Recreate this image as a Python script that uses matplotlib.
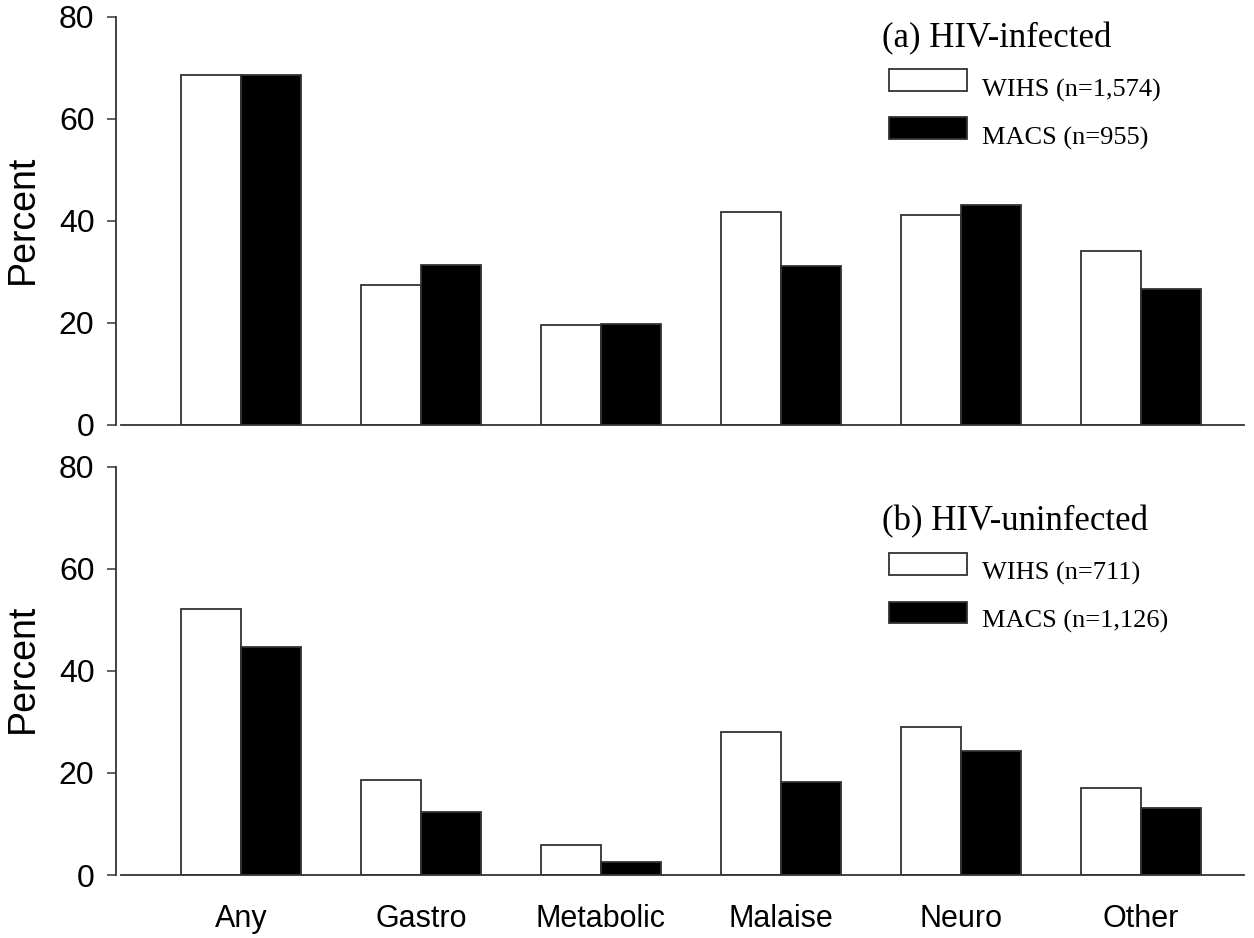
import matplotlib
matplotlib.use("Agg")
import matplotlib.pyplot as plt
from matplotlib.patches import Rectangle
import numpy as np

categories = ["Any", "Gastro", "Metabolic", "Malaise", "Neuro", "Other"]
yticks = [0, 20, 40, 60, 80]

# (a) HIV-infected
wihs_inf = [68.6, 27.4, 19.7, 41.7, 41.2, 34.2]
macs_inf = [68.6, 31.4, 19.9, 31.1, 43.2, 26.6]
# (b) HIV-uninfected
wihs_uninf = [52.2, 18.6, 5.9, 28.0, 29.0, 17.0]
macs_uninf = [44.6, 12.4, 2.5, 18.3, 24.2, 13.2]

panel_titles = ["(a) HIV-infected", "(b) HIV-uninfected"]
legend_labels = [["WIHS (n=1,574)", "MACS (n=955)"],
                 ["WIHS (n=711)", "MACS (n=1,126)"]]

W, H = 1254, 938
fig = plt.figure(figsize=(W / 100, H / 100), dpi=100)
fig.patch.set_facecolor("white")

edge = "#333333"
sans = ["Liberation Sans", "DejaVu Sans"]
serif = ["Liberation Serif", "DejaVu Serif"]

def fx(px):
    return px / W

def fy(py):
    return 1 - py / H

left_px, right_px = 116, 1244
panels = [(17, 425), (466.7, 875)]
data = [(wihs_inf, macs_inf), (wihs_uninf, macs_uninf)]

x = np.arange(len(categories))
bw = 1 / 3
x0 = (left_px - 241) / 180
x1 = (right_px - 241) / 180

axes = []
for i, ((top, bot), (w, m)) in enumerate(zip(panels, data)):
    ax = fig.add_axes([fx(left_px), fy(bot), fx(right_px - left_px), (bot - top) / H])
    ax.bar(x - bw / 2, w, width=bw, facecolor="white", edgecolor=edge, linewidth=1.3)
    ax.bar(x + bw / 2, m, width=bw, facecolor="black", edgecolor=edge, linewidth=1.3)
    ax.set_xlim(x0, x1)
    ax.set_ylim(0, 80)
    ax.set_yticks(yticks)
    ax.set_yticklabels([str(t) for t in yticks], fontfamily=sans, fontsize=23)
    for s in ["top", "right"]:
        ax.spines[s].set_visible(False)
    ax.spines["left"].set_color(edge)
    ax.spines["left"].set_linewidth(1.3)
    ax.spines["bottom"].set_color(edge)
    ax.spines["bottom"].set_linewidth(1.3)
    ax.spines["bottom"].set_bounds((121 - 241) / 180, x1)
    ax.tick_params(axis="y", direction="out", length=6.5, width=1.1, color=edge, pad=9)
    ax.set_ylabel("Percent", fontfamily=sans, fontsize=27)
    ax.yaxis.set_label_coords(-0.067, 0.505)
    ax.set_xticks(x)
    if i == 0:
        ax.set_xticklabels([])
        ax.tick_params(axis="x", length=0)
    else:
        ax.set_xticklabels(categories, fontfamily=sans, fontsize=22)
        ax.tick_params(axis="x", length=0, pad=21)
    ax.patch.set_alpha(0)
    axes.append(ax)

# Legends drawn in figure pixel space
legend_specs = [
    dict(title_base=47, boxes=[(69, 91), (117, 139)], text_base=[97, 145]),
    dict(title_base=530, boxes=[(553, 575), (602, 623)], text_base=[580, 628]),
]
for i, spec in enumerate(legend_specs):
    fig.text(fx(882), fy(spec["title_base"]), panel_titles[i], fontfamily=serif,
             fontsize=25, ha="left", va="baseline")
    for j, ((bt, bb), tb) in enumerate(zip(spec["boxes"], spec["text_base"])):
        fc = "white" if j == 0 else "black"
        r = Rectangle((fx(889), fy(bb)), fx(967 - 889), (bb - bt) / H,
                      transform=fig.transFigure, facecolor=fc, edgecolor=edge,
                      linewidth=1.3)
        fig.patches.append(r)
        fig.text(fx(982), fy(tb), legend_labels[i][j], fontfamily=serif,
                 fontsize=19, ha="left", va="baseline")

fig.savefig("out.png", dpi=100, facecolor="white")
